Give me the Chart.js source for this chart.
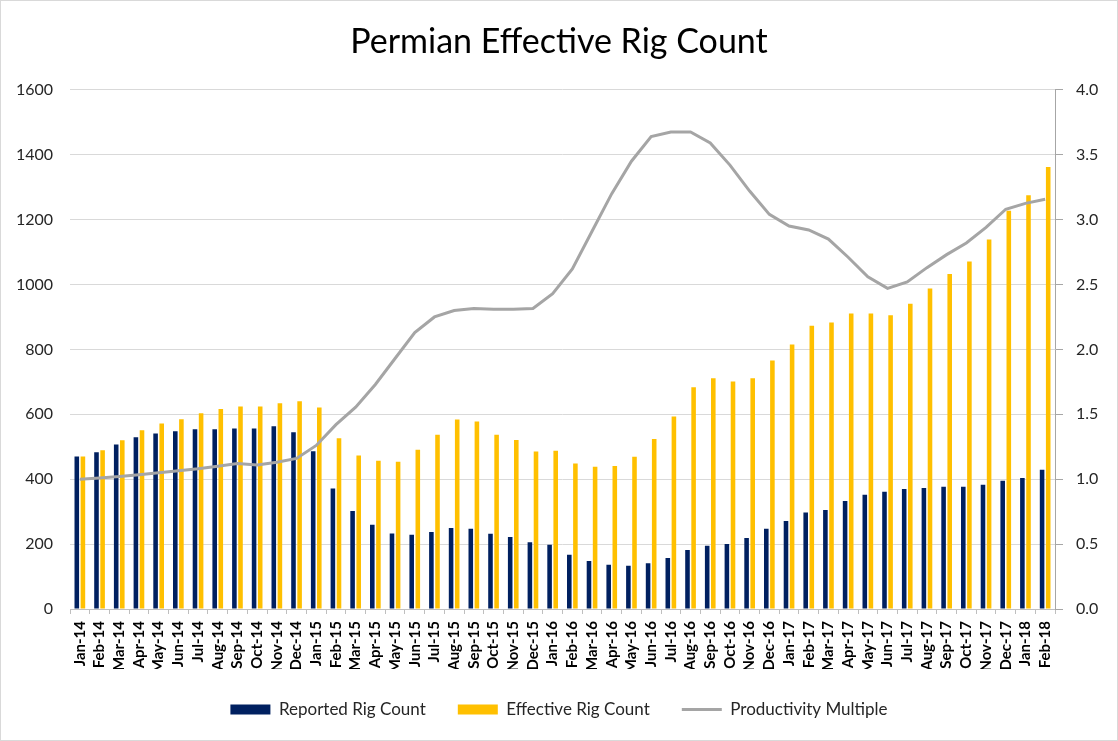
<!DOCTYPE html>
<html>
<head>
<meta charset="utf-8">
<title>Permian Effective Rig Count</title>
<script src="https://cdn.jsdelivr.net/npm/chart.js@4.4.0/dist/chart.umd.min.js"></script>
<style>
  html, body { margin: 0; padding: 0; background: #fff; }
  #wrap { width: 1118px; height: 741px; position: relative; }
</style>
</head>
<body>
<div id="wrap"><canvas id="rigChart"></canvas></div>
<script>
// Months on the x axis
const months = [
  'Jan-14','Feb-14','Mar-14','Apr-14','May-14','Jun-14','Jul-14','Aug-14','Sep-14','Oct-14','Nov-14','Dec-14',
  'Jan-15','Feb-15','Mar-15','Apr-15','May-15','Jun-15','Jul-15','Aug-15','Sep-15','Oct-15','Nov-15','Dec-15',
  'Jan-16','Feb-16','Mar-16','Apr-16','May-16','Jun-16','Jul-16','Aug-16','Sep-16','Oct-16','Nov-16','Dec-16',
  'Jan-17','Feb-17','Mar-17','Apr-17','May-17','Jun-17','Jul-17','Aug-17','Sep-17','Oct-17','Nov-17','Dec-17',
  'Jan-18','Feb-18'
];

// Reported rig count (left axis)
const reportedRigs = [
  470, 483, 507, 529, 541, 548, 554, 554, 556, 556, 563, 545,
  486, 371, 302, 260, 233, 229, 237, 250, 247, 232, 222, 206,
  198, 167, 148, 136, 133, 141, 157, 182, 195, 200, 219, 247,
  271, 297, 305, 333, 352, 361, 370, 373, 377, 377, 383, 395,
  404, 429
];

// Effective rig count (left axis)
const effectiveRigs = [
  470, 489, 520, 551, 572, 585, 603, 616, 624, 624, 634, 640,
  621, 526, 473, 457, 454, 491, 537, 584, 578, 537, 521, 485,
  488, 448, 438, 441, 469, 524, 593, 683, 711, 701, 711, 766,
  815, 873, 883, 911, 911, 905, 941, 988, 1032, 1071, 1139, 1227,
  1275, 1362
];

// Productivity multiple (right axis)
const productivity = [
  1.00, 1.01, 1.02, 1.035, 1.05, 1.065, 1.08, 1.10, 1.12, 1.11, 1.13, 1.16,
  1.26, 1.42, 1.555, 1.73, 1.93, 2.13, 2.25, 2.30, 2.315, 2.31, 2.31, 2.315,
  2.43, 2.62, 2.91, 3.20, 3.45, 3.64, 3.675, 3.675, 3.59, 3.42, 3.22, 3.04,
  2.95, 2.92, 2.85, 2.71, 2.56, 2.47, 2.52, 2.63, 2.73, 2.82, 2.94, 3.08,
  3.125, 3.157
];

const FONT = "Lato, 'Open Sans', sans-serif";
const textColor = '#262626';

// white background + thin frame like the Excel chart area
const frame = {
  id: 'frame',
  beforeDraw(chart) {
    const c = chart.ctx;
    c.save();
    c.fillStyle = '#fff';
    c.fillRect(0, 0, chart.width, chart.height);
    c.strokeStyle = '#d9d9d9';
    c.lineWidth = 1;
    c.strokeRect(0.5, 0.5, chart.width - 1, chart.height - 1);
    c.restore();
  }
};

const ctx = document.getElementById('rigChart').getContext('2d');
new Chart(ctx, {
  type: 'bar',
  data: {
    labels: months,
    datasets: [
      {
        label: 'Reported Rig Count',
        data: reportedRigs,
        backgroundColor: '#002060',
        yAxisID: 'y',
        order: 2,
        pointStyle: 'rect',
        categoryPercentage: 0.62,
        barPercentage: 0.75
      },
      {
        label: 'Effective Rig Count',
        data: effectiveRigs,
        backgroundColor: '#FFC000',
        yAxisID: 'y',
        order: 2,
        pointStyle: 'rect',
        categoryPercentage: 0.62,
        barPercentage: 0.75
      },
      {
        type: 'line',
        label: 'Productivity Multiple',
        data: productivity,
        borderColor: '#A5A5A5',
        backgroundColor: '#A5A5A5',
        borderWidth: 3,
        pointRadius: 0,
        tension: 0,
        yAxisID: 'y1',
        order: 0,
        pointStyle: 'line'
      }
    ]
  },
  options: {
    responsive: true,
    maintainAspectRatio: false,
    animation: false,
    layout: { padding: { left: 0, right: 0, top: 0, bottom: 13 } },
    plugins: {
      title: {
        display: true,
        text: 'Permian Effective Rig Count',
        color: '#000',
        font: { family: FONT, size: 34, weight: 'normal' },
        padding: { top: 22, bottom: 27 }
      },
      legend: {
        position: 'bottom',
        labels: {
          usePointStyle: true,
          pointStyleWidth: 40,
          boxHeight: 10,
          padding: 32,
          color: textColor,
          font: { family: FONT, size: 17 },
          sort: (a, b) => a.datasetIndex - b.datasetIndex
        }
      },
      tooltip: { enabled: false }
    },
    scales: {
      x: {
        offset: true,
        grid: {
          offset: true,
          drawOnChartArea: false,
          drawTicks: true,
          tickLength: 5,
          color: '#bfbfbf'
        },
        border: { display: true, color: '#bfbfbf' },
        ticks: {
          autoSkip: false,
          minRotation: 90,
          maxRotation: 90,
          padding: 7,
          color: '#000',
          font: { family: FONT, size: 15, weight: 'bold' }
        },
        afterFit(scale) { scale.height = 60; }
      },
      y: {
        position: 'left',
        min: 0,
        max: 1600,
        ticks: {
          stepSize: 200,
          padding: 17,
          color: textColor,
          font: { family: FONT, size: 16 },
          callback: v => String(v)
        },
        grid: { color: '#d9d9d9', lineWidth: 1, drawTicks: false },
        border: { display: false },
        afterFit(scale) { scale.width = 70; }
      },
      y1: {
        position: 'right',
        min: 0,
        max: 4,
        ticks: {
          stepSize: 0.5,
          padding: 13,
          color: textColor,
          font: { family: FONT, size: 16 },
          callback: v => Number(v).toFixed(1)
        },
        grid: { drawOnChartArea: false, drawTicks: true, tickLength: 8, color: '#a6a6a6' },
        border: { display: true, color: '#a6a6a6' },
        afterFit(scale) { scale.width = 63; }
      }
    }
  },
  plugins: [frame]
});
</script>
</body>
</html>
